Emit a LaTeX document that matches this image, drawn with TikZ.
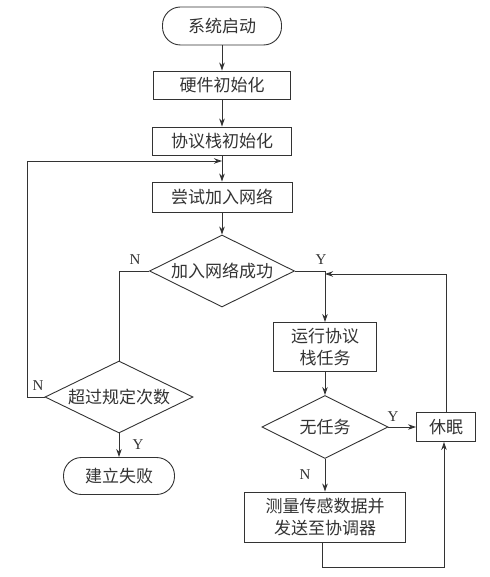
\documentclass[tikz,border=0pt]{standalone}
\usepackage{fontspec}
\setmainfont{Liberation Serif}
\newfontfamily\cjk{Noto Sans CJK SC}
\usetikzlibrary{shapes.geometric,arrows.meta}
\definecolor{ink}{HTML}{333333}
\begin{document}
\begin{tikzpicture}[x=1pt,y=-1pt,
 every node/.style={font=\cjk\fontsize{17}{22}\selectfont, text=ink},
 box/.style={draw=ink, line width=0.9pt, rectangle, inner sep=0pt, align=center},
 term/.style={box, rounded corners=18pt},
 dec/.style={draw=ink, line width=0.9pt, diamond, aspect=2, inner sep=0pt},
 lab/.style={font=\rmfamily\fontsize{15}{15}\selectfont},
 line/.style={draw=ink, line width=0.9pt},
 arr/.style={line, -{Stealth[length=8pt,width=5.5pt]}}
]
\useasboundingbox (0,0) rectangle (489,577);

\node[term, minimum width=119pt, minimum height=38pt] (start) at (222,26) {系统启动};
\node[box, minimum width=137pt, minimum height=28pt] (hw) at (222,85) {硬件初始化};
\node[box, minimum width=139pt, minimum height=28pt] (proto) at (222,141) {协议栈初始化};
\node[box, minimum width=140pt, minimum height=30pt] (try) at (222,197) {尝试加入网络};
\node[dec, minimum width=145pt, minimum height=72pt] (d1) at (222,271) {加入网络成功};
\node[dec, minimum width=148pt, minimum height=72pt] (d2) at (119,397) {超过规定次数};
\node[term, minimum width=111pt, minimum height=37pt] (fail) at (119,476) {建立失败};
\node[box, minimum width=103pt, minimum height=49pt] (run) at (325,347) {运行协议\\栈任务};
\node[dec, minimum width=126pt, minimum height=63pt] (d3) at (325,427) {无任务};
\node[box, minimum width=59pt, minimum height=29pt] (sleep) at (446,427) {休眠};
\node[box, minimum width=161pt, minimum height=50pt] (meas) at (325,517) {测量传感数据并\\发送至协调器};

\coordinate (j1) at (222,161);
\coordinate (j2) at (325,274);

\draw[arr] (start) -- (hw);
\draw[arr] (hw) -- (proto);
\draw[arr] (proto) -- (try);
\draw[arr] (try) -- (d1);
\draw[line] (d1.west) -| (d2.north);
\draw[arr] (d1.east) -| (run.north);
\draw[arr] (d2.west) -- ++(-17,0) |- (j1);
\draw[arr] (d2) -- (fail);
\draw[arr] (run) -- (d3);
\draw[arr] (d3) -- (sleep);
\draw[arr] (d3) -- (meas);
\draw[arr] ([xshift=-3pt]meas.south) -- ++(0,25) -| ([xshift=-2pt]sleep.south);
\draw[arr] (sleep.north) |- (j2);

\node[lab] (n1) at (135,260) {N};
\node[lab] (y1) at (321,260) {Y};
\node[lab] (n2) at (38,386) {N};
\node[lab] (y2) at (138,445) {Y};
\node[lab] (y3) at (393,417) {Y};
\node[lab] (n3) at (305,475) {N};
\end{tikzpicture}
\end{document}
